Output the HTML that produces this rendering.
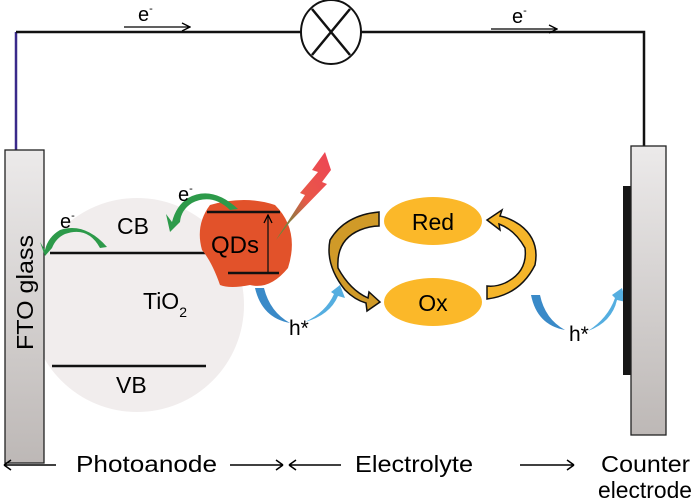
<!DOCTYPE html>
<html><head><meta charset="utf-8"><style>
html,body{margin:0;padding:0;background:#fff;}
svg{display:block;font-family:"Liberation Sans",Arial,sans-serif;}
</style></head><body>
<svg width="700" height="504" viewBox="0 0 700 504">
<defs>
<linearGradient id="bar" x1="0" y1="0" x2="0" y2="1"><stop offset="0" stop-color="#eceaea"/><stop offset="1" stop-color="#bdb8b6"/></linearGradient>
<linearGradient id="bolt" x1="1" y1="0" x2="0" y2="1"><stop offset="0" stop-color="#ee4455"/><stop offset="0.5" stop-color="#e85848"/><stop offset="1" stop-color="#3a9a3a"/></linearGradient>
<marker id="ah" markerWidth="10" markerHeight="10" refX="9" refY="5" orient="auto" markerUnits="userSpaceOnUse"><path d="M1,1 L9,5 L1,9" fill="none" stroke="#000" stroke-width="1.3"/></marker>
</defs>
<path d="M16,150 V32" stroke="#3a2a8a" stroke-width="2.5"/>
<path d="M16,32 H301 M361,32 H644 V146" stroke="#111" stroke-width="2.5" fill="none"/>
<ellipse cx="331" cy="32" rx="30" ry="32" fill="#fff" stroke="#111" stroke-width="2"/>
<path d="M312,9 L350,55 M350,9 L312,55" stroke="#111" stroke-width="2.5"/>
<line x1="124" y1="27" x2="190" y2="27" stroke="#000" stroke-width="1.3" marker-end="url(#ah)"/>
<text x="138" y="21" font-size="20">e<tspan font-size="11" dy="-9">-</tspan></text>
<line x1="491" y1="29" x2="557" y2="29" stroke="#000" stroke-width="1.3" marker-end="url(#ah)"/>
<text x="512" y="23" font-size="20">e<tspan font-size="11" dy="-9">-</tspan></text>
<circle cx="137" cy="305" r="107" fill="#f1eded"/>
<rect x="5" y="150" width="39" height="313" fill="url(#bar)" stroke="#222" stroke-width="1.3"/>
<text transform="translate(33,350) rotate(-90)" font-size="23" textLength="115" lengthAdjust="spacingAndGlyphs">FTO glass</text>
<line x1="50" y1="253" x2="213" y2="253" stroke="#111" stroke-width="2.5"/>
<line x1="52" y1="366" x2="206" y2="366" stroke="#111" stroke-width="2.5"/>
<text x="117" y="234" font-size="23">CB</text>
<text x="116" y="393" font-size="23">VB</text>
<text x="143" y="309" font-size="23">TiO<tspan font-size="14" dy="8">2</tspan></text>
<path d="M210,205 Q245,195 275,205 Q300,230 288,268 Q270,290 250,285 Q230,289 220,285 Q212,262 202,250 Q195,225 210,205Z" fill="#e2522a"/>
<line x1="207" y1="212" x2="280" y2="212" stroke="#111" stroke-width="2.5"/>
<line x1="228" y1="273" x2="279" y2="273" stroke="#111" stroke-width="2.5"/>
<line x1="268" y1="272" x2="268" y2="215" stroke="#111" stroke-width="1.3" marker-end="url(#ah)"/>
<text x="211" y="253" font-size="24">QDs</text>
<path d="M276,240 L305,195 L300,193 L318,172 L312,170 L325,152 L331,170 L322,182 L327,184 L290,222Z" fill="url(#bolt)"/>
<path d="M107,247 Q85,222 60,230 Q48,237 45,250 L40,242 L45,256 L52,248 Q56,238 65,234 Q88,226 100,248Z" fill="#2d9a4a"/>
<text x="60" y="228" font-size="20">e<tspan font-size="11" dy="-9">-</tspan></text>
<path d="M238,209 Q212,185 188,198 Q176,206 172,222 L166,214 L170,232 L180,222 Q181,210 192,203 Q212,193 230,210Z" fill="#2d9a4a"/>
<text x="178" y="201" font-size="20">e<tspan font-size="11" dy="-9">-</tspan></text>
<path d="M255,288 Q262,318 290,323 Q270,312 264,288Z" fill="#3a8ac8"/>
<path d="M305,322 Q330,315 338,296 L345,298 L340,285 L331,292 L334,294 Q326,312 305,322Z" fill="#55aee0"/>
<text x="289" y="335" font-size="21">h*</text>
<path d="M531,295 Q537,325 565,330 Q545,319 540,295Z" fill="#3a8ac8"/>
<path d="M588,331 Q612,322 617,300 L626,302 L622,288 L612,295 L615,298 Q608,318 588,331Z" fill="#55aee0"/>
<text x="569" y="341" font-size="21">h*</text>
<ellipse cx="433" cy="221" rx="49" ry="24" fill="#fbb829"/>
<ellipse cx="433" cy="302" rx="49" ry="24" fill="#fbb829"/>
<text x="433" y="230" font-size="23" text-anchor="middle">Red</text>
<text x="433" y="311" font-size="23" text-anchor="middle">Ox</text>
<path d="M379,212 Q345,215 330,240 Q325,265 345,290 Q355,300 366,303 L367,311 L380,302 L369,292 L368,298 Q350,290 338,268 Q336,240 360,230 Q370,226 379,226Z" fill="#d09a28" stroke="#111" stroke-width="1.5"/>
<path d="M487,299 Q520,295 535,265 Q540,240 520,225 Q510,218 500,216 L502,210 L487,220 L500,230 L499,224 Q515,230 525,248 Q528,272 505,283 Q496,287 487,286Z" fill="#f5b52a" stroke="#111" stroke-width="1.5"/>
<rect x="623" y="186" width="9" height="189" fill="#161616"/>
<rect x="631" y="146" width="35" height="289" fill="url(#bar)" stroke="#222" stroke-width="1.3"/>
<g stroke="#000" stroke-width="1.5" fill="none">
<path d="M4,465 H56 M4,465 l7,-5 M4,465 l7,5"/>
<path d="M230,465 H283 M283,465 l-7,-5 M283,465 l-7,5"/>
<path d="M289,465 H341 M289,465 l7,-5 M289,465 l7,5"/>
<path d="M520,465 H574 M574,465 l-7,-5 M574,465 l-7,5"/>
</g>
<g font-size="23">
<text x="76" y="472" textLength="141" lengthAdjust="spacingAndGlyphs">Photoanode</text>
<text x="355" y="472" textLength="118" lengthAdjust="spacingAndGlyphs">Electrolyte</text>
<text x="601" y="472" textLength="89" lengthAdjust="spacingAndGlyphs">Counter</text>
<text x="598" y="498" textLength="94" lengthAdjust="spacingAndGlyphs">electrode</text>
</g>
</svg>
</body></html>
